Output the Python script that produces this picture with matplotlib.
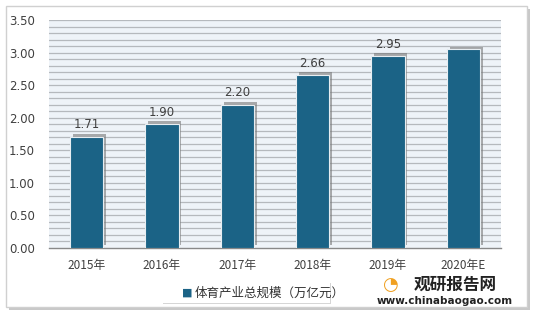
import matplotlib.pyplot as plt
import matplotlib.patheffects as pe
from matplotlib.patches import FancyBboxPatch
import numpy as np

plt.rcParams['font.family'] = ['Noto Sans CJK SC', 'DejaVu Sans']

years = ['2015年', '2016年', '2017年', '2018年', '2019年', '2020年E']
values = [1.71, 1.90, 2.20, 2.66, 2.95, 3.05]
labels = ['1.71', '1.90', '2.20', '2.66', '2.95', '']
series_name = '体育产业总规模（万亿元）'

fig = plt.figure(figsize=(5.34, 3.18), dpi=100)
fig.patch.set_facecolor('white')

# outer frame with shadow
frame = FancyBboxPatch((0.012, 0.035), 0.975, 0.945, boxstyle='square,pad=0',
                       transform=fig.transFigure, facecolor='white',
                       edgecolor='#d0d0d0', linewidth=1.0, zorder=-10,
                       path_effects=[pe.SimplePatchShadow(offset=(2, -2), shadow_rgbFace='#bbbbbb', alpha=0.8),
                                     pe.Normal()])
fig.patches.append(frame)

ax = fig.add_axes([49 / 534, 1 - 248 / 318, 452 / 534, 228 / 318])
ax.set_zorder(1)
ax.set_facecolor('#eef3f8')
x = np.arange(len(years))

for yv in np.arange(0.1, 3.51, 0.1):
    ax.axhline(yv, color='#b5b9bd', linewidth=0.9, zorder=1)

bars = ax.bar(x, values, width=0.44, color='#1b6386', edgecolor='#e8eef2',
              linewidth=0.8, zorder=3,
              path_effects=[pe.SimplePatchShadow(offset=(2, 2), shadow_rgbFace='#777777', alpha=0.6),
                            pe.Normal()])

for xi, v, lab in zip(x, values, labels):
    if lab:
        ax.text(xi, v + 0.08, lab, ha='center', va='bottom', fontsize=8.5,
                color='#404040', family='DejaVu Sans')

ax.set_xlim(-0.5, 5.5)
ax.set_ylim(0, 3.5)
ax.set_yticks(np.arange(0, 3.51, 0.5))
ax.set_yticklabels(['%.2f' % t for t in np.arange(0, 3.51, 0.5)], fontsize=8.5,
                   color='#404040', family='DejaVu Sans')
ax.set_xticks(x)
ax.set_xticklabels(years, fontsize=8.5, color='#404040')
ax.tick_params(axis='x', length=0, pad=8)
ax.tick_params(axis='y', length=0, pad=10)
for s in ['top', 'right', 'left']:
    ax.spines[s].set_visible(False)
ax.spines['bottom'].set_color('#888888')
ax.spines['bottom'].set_linewidth(1.0)

# legend box
leg_box = FancyBboxPatch((162 / 534, 1 - 303 / 318), 168 / 534, 21 / 318,
                         boxstyle='square,pad=0', transform=fig.transFigure,
                         facecolor='white', edgecolor='none', zorder=5,
                         path_effects=[pe.SimplePatchShadow(offset=(1, -1), shadow_rgbFace='#cccccc', alpha=0.8),
                                       pe.Normal()])
fig.patches.append(leg_box)
fig.text(187 / 534, 1 - 293 / 318, '■', color='#1b6386', fontsize=8,
         ha='center', va='center', family='DejaVu Sans', zorder=6)
fig.text(195 / 534, 1 - 293 / 318, series_name, color='#333333', fontsize=9,
         ha='left', va='center', zorder=6)

# watermark
fig.text(390 / 534, 1 - 285 / 318, '◔', color='#f0a020', fontsize=13,
         ha='center', va='center', family='DejaVu Sans', zorder=6)
fig.text(455 / 534, 1 - 285 / 318, '观研报告网', color='#222222', fontsize=12,
         fontweight='bold', ha='center', va='center', zorder=6)
fig.text(445 / 534, 1 - 301 / 318, 'www.chinabaogao.com', color='#222222',
         fontsize=7.5, fontweight='bold', ha='center', va='center', family='DejaVu Sans', zorder=6)

fig.savefig('out.png', dpi=100)
